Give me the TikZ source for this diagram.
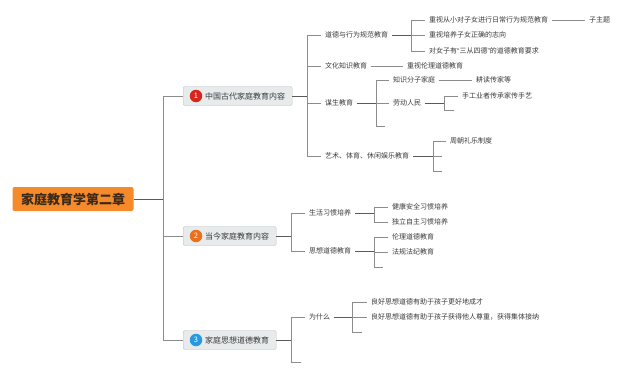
\documentclass[tikz,border=0pt]{standalone}
\usepackage{fontspec}
\setmainfont{Noto Sans CJK SC}
\newfontfamily\lat{Liberation Sans}
\definecolor{rootfill}{HTML}{F48A2A}
\definecolor{roottxt}{HTML}{3B2A1A}
\definecolor{bfill}{HTML}{E7EBEC}
\definecolor{bdraw}{HTML}{B9C1C3}
\definecolor{txt}{HTML}{3A3A3A}
\definecolor{lc}{HTML}{8C8C8C}
\definecolor{pc}{HTML}{5A5A5A}
\definecolor{bred}{HTML}{D9261C}
\definecolor{borange}{HTML}{EA6F1F}
\definecolor{bblue}{HTML}{2A9AE0}
\tikzset{
 rootbox/.style={fill=rootfill, rounded corners=2pt, minimum width=121pt, minimum height=24pt, inner sep=0pt, text=roottxt, font=\fontsize{13}{14}\selectfont\bfseries},
 branch/.style={anchor=west, draw=bdraw, fill=bfill, rounded corners=2pt, minimum height=19pt, inner xsep=7pt, inner ysep=0pt, font=\fontsize{8}{9}\selectfont, text=txt},
 badge/.style={circle, inner sep=0pt, minimum size=12.5pt, text=white, font=\fontsize{7.5}{8}\selectfont},
 leaf/.style={anchor=west, inner xsep=4pt, inner ysep=1pt, font=\fontsize{7}{8}\selectfont, text=txt},
 conn/.style={draw=lc, line width=0.7pt},
 pconn/.style={draw=pc, line width=0.9pt}
}
\begin{document}
\begin{tikzpicture}[x=1pt,y=-1pt]
\useasboundingbox[fill=white] (0,0) rectangle (640,375);
% root
\node[rootbox] (root) at (73,199) {家庭教育学第二章};
\coordinate (s0) at (163,199);
% branches
\node[branch] (b1) at (183,96) {\hspace*{15pt}中国古代家庭教育内容};
\node[badge, fill=bred] (n1) at (196,96) {1};
\node[branch] (b2) at (183,236) {\hspace*{15pt}当今家庭教育内容};
\node[badge, fill=borange] (n2) at (196,236) {2};
\node[branch] (b3) at (183,340) {\hspace*{15pt}家庭思想道德教育};
\node[badge, fill=bblue] (n3) at (196,340) {3};
\draw[pconn] (root.east) -- (s0);
\foreach \b in {b1,b2,b3} \draw[conn] (s0) |- (\b.west);

% branch 1
\coordinate (s1) at (307,96);
\node[leaf] (a1) at (321,35) {道德与行为规范教育};
\node[leaf] (a2) at (321,66) {文化知识教育};
\node[leaf] (a3) at (321,103) {谋生教育};
\node[leaf] (a4) at (321,156) {艺术、体育、休闲娱乐教育};
\draw[pconn] (b1.east) -- (s1);
\foreach \c in {a1,a2,a3,a4} \draw[conn] (s1) |- (\c.west);

\coordinate (sa1) at (411,35);
\node[leaf] (a11) at (425,20) {重视从小对子女进行日常行为规范教育};
\node[leaf] (a12) at (425,35) {重视培养子女正确的志向};
\node[leaf] (a13) at (425,51) {对女子有{\lat “}三从四德{\lat ”}的道德教育要求};
\draw[pconn] (a1.east) -- (sa1);
\foreach \c in {a11,a12,a13} \draw[conn] (sa1) |- (\c.west);
\node[leaf] (a111) at (585,20) {子主题};
\draw[conn] (a11.east) -- (a111.west);

\node[leaf] (a21) at (403,66) {重视伦理道德教育};
\draw[conn] (a2.east) -- (a21.west);

\coordinate (sa3) at (376,103);
\node[leaf] (a31) at (389,80) {知识分子家庭};
\node[leaf] (a32) at (389,103) {劳动人民};
\coordinate (e33) at (385,126);
\draw[pconn] (a3.east) -- (sa3);
\foreach \c in {a31.west,a32.west,e33} \draw[conn] (sa3) |- (\c);
\node[leaf] (a311) at (472,80) {耕读传家等};
\draw[conn] (a31.east) -- (a311.west);
\coordinate (sa32) at (444,103);
\node[leaf] (a321) at (458,96) {手工业者传承家传手艺};
\coordinate (e322) at (454,110);
\draw[pconn] (a32.east) -- (sa32);
\foreach \c in {a321.west,e322} \draw[conn] (sa32) |- (\c);

\coordinate (sa4) at (433,156);
\node[leaf] (a41) at (446,141) {周朝礼乐制度};
\coordinate (e42) at (442,156);
\coordinate (e43) at (442,171);
\draw[pconn] (a4.east) -- (sa4);
\foreach \c in {a41.west,e42,e43} \draw[conn] (sa4) |- (\c);

% branch 2
\coordinate (s2) at (291,236);
\node[leaf] (c1) at (305,213) {生活习惯培养};
\node[leaf] (c2) at (305,251) {思想道德教育};
\draw[pconn] (b2.east) -- (s2);
\foreach \c in {c1,c2} \draw[conn] (s2) |- (\c.west);
\coordinate (sc1) at (374,213);
\node[leaf] (c11) at (388,207) {健康安全习惯培养};
\node[leaf] (c12) at (388,222) {独立自主习惯培养};
\draw[pconn] (c1.east) -- (sc1);
\foreach \c in {c11,c12} \draw[conn] (sc1) |- (\c.west);
\coordinate (sc2) at (374,251);
\node[leaf] (c21) at (388,237) {伦理道德教育};
\node[leaf] (c22) at (388,252) {法规法纪教育};
\coordinate (e23) at (383,267);
\draw[pconn] (c2.east) -- (sc2);
\foreach \c in {c21.west,c22.west,e23} \draw[conn] (sc2) |- (\c);

% branch 3
\coordinate (s3) at (291,340);
\node[leaf] (d1) at (305,317) {为什么};
\coordinate (e32) at (301,362);
\draw[pconn] (b3.east) -- (s3);
\foreach \c in {d1.west,e32} \draw[conn] (s3) |- (\c);
\coordinate (sd1) at (352,317);
\node[leaf] (d11) at (367,302) {良好思想道德有助于孩子更好地成才};
\node[leaf] (d12) at (367,317) {良好思想道德有助于孩子获得他人尊重，获得集体接纳};
\coordinate (e13) at (362,332);
\draw[pconn] (d1.east) -- (sd1);
\foreach \c in {d11.west,d12.west,e13} \draw[conn] (sd1) |- (\c);
\end{tikzpicture}
\end{document}
